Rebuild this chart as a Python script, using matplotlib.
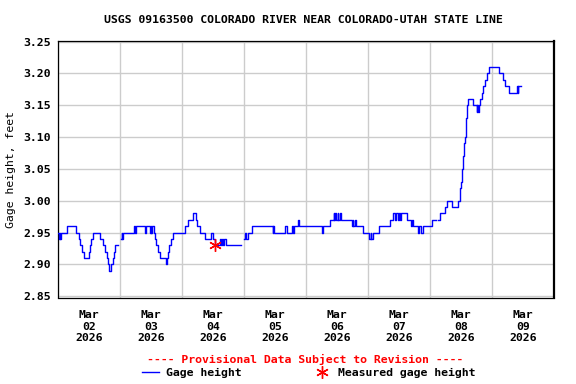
import numpy as np
import matplotlib
matplotlib.use("Agg")
import matplotlib.pyplot as plt
from matplotlib.lines import Line2D

# hours since Mar 02 2026 00:00 where the reading changes, NaN = gap
hours = [0.0, 0.25, 0.5, 0.75, 1.0, 3.4, 7.0, 7.9, 8.4, 9.0, 10.0, 11.7, 12.4, 12.7,
         13.3, 16.3, 17.5, 18.2, 18.8, 19.3, 19.7, 20.4, 21.2, 21.6, 22.1, 23.1,
         24.2, 24.5, 24.75, 25.0, 29.5, 29.75, 30.0, 33.6, 33.9, 35.5, 35.75, 36.0,
         36.25, 36.9, 37.5, 38.0, 38.6, 39.2, 41.8, 42.1, 42.4, 43.0, 43.6, 44.3,
         49.2, 50.4, 52.0, 53.2, 53.7, 55.0, 56.9, 59.1, 60.1, 60.8, 62.7, 62.9,
         63.35, 63.7, 64.2, 64.9, 70.84,
         72.1, 72.4, 72.6, 73.3, 75.2, 83.1, 83.3, 83.6, 87.9, 88.5, 90.7, 91.0,
         91.35, 93.0, 93.3, 102.1, 102.5, 105.3, 106.6, 106.9, 107.2, 107.5, 108.2,
         108.5, 109.2, 109.6, 113.7, 114.0, 114.3, 114.9, 115.2, 117.9, 120.5, 121.0,
         121.3, 121.7, 124.4, 128.3, 129.8, 130.4, 130.8, 131.5, 131.8, 132.4, 132.8,
         135.0, 136.6, 137.0, 137.3, 139.5, 139.9, 140.3, 141.1, 144.6, 146.3,
         147.0, 147.9, 149.8, 150.7, 152.4, 155.0, 155.5, 155.75, 156.0, 156.25,
         156.5, 156.75, 157.0, 157.25, 157.5, 157.75, 158.0, 158.25, 158.5, 160.8,
         162.1, 162.3, 162.5, 162.8, 163.4, 164.0, 164.6, 165.4, 166.2, 167.0, 170.8,
         172.1, 173.0, 174.7, 177.8, 178.0, 178.2, 179.1]
gage = [2.95, 2.94, 2.95, 2.94, 2.95, 2.96, 2.95, 2.94, 2.93, 2.92, 2.91, 2.92, 2.93, 2.94,
        2.95, 2.94, 2.93, 2.92, 2.91, 2.90, 2.89, 2.90, 2.91, 2.92, 2.93, np.nan,
        2.94, 2.95, 2.94, 2.95, 2.96, 2.95, 2.96, 2.95, 2.96, 2.95, 2.96, 2.95,
        2.96, 2.95, 2.94, 2.93, 2.92, 2.91, 2.90, 2.91, 2.92, 2.93, 2.94, 2.95,
        2.96, 2.97, 2.98, 2.97, 2.96, 2.95, 2.94, 2.95, 2.94, 2.93, 2.94, 2.93,
        2.94, 2.93, 2.94, 2.93, np.nan,
        2.94, 2.95, 2.94, 2.95, 2.96, 2.95, 2.96, 2.95, 2.96, 2.95, 2.96, 2.95,
        2.96, 2.97, 2.96, 2.95, 2.96, 2.97, 2.98, 2.97, 2.98, 2.97, 2.98,
        2.97, 2.98, 2.97, 2.96, 2.97, 2.96, 2.97, 2.96, 2.95, 2.94, 2.95,
        2.94, 2.95, 2.96, 2.97, 2.98, 2.97, 2.98, 2.97, 2.98, 2.97, 2.98,
        2.97, 2.96, 2.97, 2.96, 2.95, 2.96, 2.95, 2.96, 2.97, np.nan,
        2.97, 2.98, 2.99, 3.00, 2.99, 3.00, 3.01, 3.02, 3.03, 3.04,
        3.05, 3.07, 3.08, 3.09, 3.10, 3.11, 3.13, 3.15, 3.16, 3.15,
        3.14, 3.15, 3.14, 3.15, 3.16, 3.17, 3.18, 3.19, 3.20, 3.21, 3.20,
        3.19, 3.18, 3.17, 3.18, 3.17, 3.18, 3.18]

meas_hours = [60.8]
meas_gage = [2.93]

day_labels = ["Mar\n02\n2026", "Mar\n03\n2026", "Mar\n04\n2026", "Mar\n05\n2026",
              "Mar\n06\n2026", "Mar\n07\n2026", "Mar\n08\n2026", "Mar\n09\n2026"]
y_ticks = [2.85, 2.90, 2.95, 3.00, 3.05, 3.10, 3.15, 3.20, 3.25]

plt.rcParams['font.family'] = 'DejaVu Sans Mono'
plt.rcParams['font.weight'] = 'bold'
fs = 8.25

fig = plt.figure(figsize=(5.76, 3.84), dpi=100)
ax = fig.add_axes([58.3 / 576, 1 - 297.5 / 384, (554 - 58.3) / 576, (297.5 - 41) / 384])

ax.plot(hours, gage, color='#0000ff', lw=1, drawstyle='steps-post', zorder=3)
ax.plot(meas_hours, meas_gage, ls='none', marker=(6, 2, 0), ms=9, mew=1,
        color='#ff0000', zorder=4)

ax.set_xlim(0, 192)
ax.set_ylim(2.848, 3.251)
ax.set_xticks(np.arange(0, 193, 24))
ax.set_xticks(np.arange(12, 192, 24), minor=True)
ax.set_xticklabels([])
ax.set_xticklabels(day_labels, minor=True, fontsize=fs, linespacing=1.2)
ax.set_yticks(y_ticks)
ax.set_yticklabels(["%.2f" % v for v in y_ticks], fontsize=fs)
ax.tick_params(axis='both', which='both', length=0, pad=5.5)
ax.tick_params(axis='x', which='minor', pad=9)
ax.grid(True, which='major', color='#cccccc', lw=1)
ax.set_axisbelow(True)
for s in ax.spines.values():
    s.set_linewidth(0.9)
ax.spines['right'].set_linewidth(1.6)

ax.set_ylabel("Gage height, feet", fontsize=fs, labelpad=5)
fig.text(303 / 576, 1 - 20 / 384, "USGS 09163500 COLORADO RIVER NEAR COLORADO-UTAH STATE LINE",
         ha='center', va='center', fontsize=fs)
fig.text(305 / 576, 1 - 359 / 384, "---- Provisional Data Subject to Revision ----",
         ha='center', va='center', fontsize=fs, color='#ff0000')

handles = [Line2D([], [], color='#0000ff', lw=1),
           Line2D([], [], ls='none', marker=(6, 2, 0), ms=9, mew=1, color='#ff0000')]
fig.legend(handles, ["Gage height", "Measured gage height"], loc='center',
           bbox_to_anchor=(308.4 / 576, 1 - 373 / 384), ncol=2, frameon=False,
           fontsize=fs, handlelength=1.53, handletextpad=0.58, columnspacing=6.3,
           borderpad=0, borderaxespad=0)

fig.savefig("out.png", dpi=100)
